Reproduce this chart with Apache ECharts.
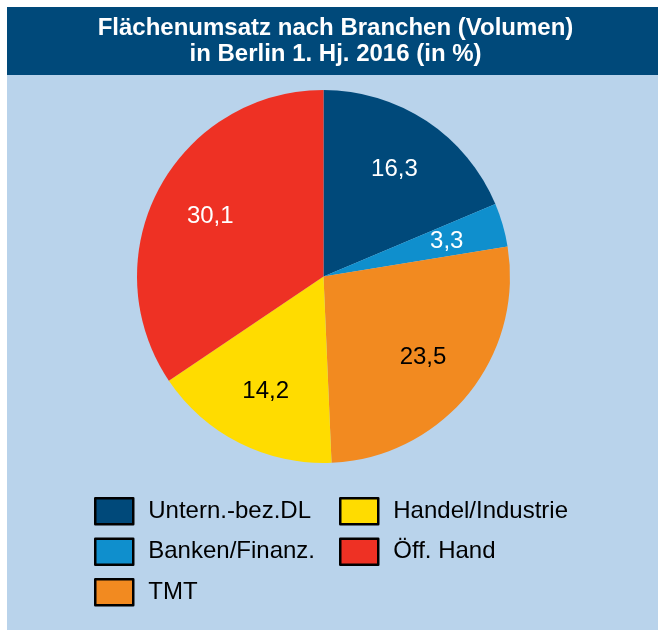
<!DOCTYPE html>
<html>
<head>
<meta charset="utf-8">
<script src="https://cdn.jsdelivr.net/npm/echarts@6/dist/echarts.min.js"></script>
<style>
  html, body { margin: 0; padding: 0; background: #fff; }
  #chart { width: 658px; height: 631px; }
</style>
</head>
<body>
<div id="chart"></div>
<script>
// Flächenumsatz nach Branchen, Berlin 1. Hj. 2016 (in %)
const branchen = ['Untern.-bez.DL', 'Banken/Finanz.', 'TMT', 'Handel/Industrie', 'Öff. Hand'];
const anteile = [16.3, 3.3, 23.5, 14.2, 30.1];
const farben = ['#00497a', '#0f8fcd', '#f28a20', '#ffdc00', '#ee3124'];
const labelFarben = ['#fff', '#fff', '#000', '#000', '#fff'];

const font = '"Liberation Sans", Arial, sans-serif';
const cx = 323.5, cy = 276.5, r = 186.5;

let chart = echarts.init(document.getElementById('chart'));

let pieData = branchen.map((name, i) => ({
    name: name,
    value: anteile[i],
    itemStyle: { color: farben[i] }
}));

// zweite, unsichtbare Serie nur für die Beschriftung (liegt weiter außen als 'inside')
let labelData = branchen.map((name, i) => ({
    name: name,
    value: anteile[i],
    label: { color: labelFarben[i] }
}));

const legendBase = {
    orient: 'vertical',
    icon: 'rect',
    padding: 0,
    itemWidth: 38, itemHeight: 26, itemGap: 12,
    itemStyle: { borderColor: '#000', borderWidth: 2.5 },
    textStyle: { fontFamily: font, fontSize: 24, lineHeight: 28, color: '#000', padding: [0, 0, 0, 10] },
    selectedMode: false
};

let option = {
    animation: false,
    graphic: {
        elements: [
            { type: 'rect', z: -10, shape: { x: 7, y: 7, width: 651, height: 623 }, style: { fill: '#b9d3eb' } },
            { type: 'rect', z: -9, shape: { x: 7, y: 7, width: 651, height: 68 }, style: { fill: '#00497a' } },
            {
                type: 'text', z: 10, x: 335.5, y: 41,
                style: {
                    text: 'Flächenumsatz nach Branchen (Volumen)\nin Berlin 1. Hj. 2016 (in %)',
                    fill: '#fff',
                    font: 'bold 24px ' + font,
                    lineHeight: 26,
                    align: 'center',
                    verticalAlign: 'middle'
                }
            }
        ]
    },
    legend: [
        Object.assign({}, legendBase, { data: branchen.slice(0, 3), left: 94, top: 497 }),
        Object.assign({}, legendBase, { data: branchen.slice(3), left: 339, top: 497 })
    ],
    series: [
        {
            type: 'pie',
            center: [cx, cy],
            radius: [0, r],
            startAngle: 90,
            clockwise: true,
            label: { show: false },
            labelLine: { show: false },
            emphasis: { disabled: true },
            data: pieData
        },
        {
            type: 'pie',
            silent: true,
            center: [cx, cy],
            radius: [64, r],
            startAngle: 90,
            clockwise: true,
            itemStyle: { color: 'transparent' },
            label: {
                show: true,
                position: 'inside',
                fontFamily: font,
                fontSize: 24,
                formatter: p => p.value.toFixed(1).replace('.', ',')
            },
            labelLine: { show: false },
            data: labelData
        }
    ]
};

option && chart.setOption(option);
</script>
</body>
</html>
